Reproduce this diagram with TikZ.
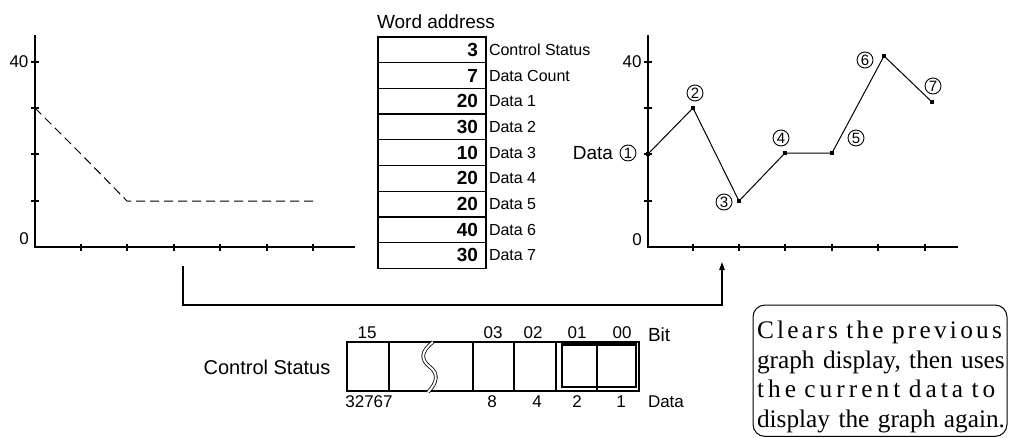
\documentclass[tikz,border=0pt]{standalone}
\usepackage{fontspec}
\setmainfont{Liberation Sans}
\newfontfamily\notefont{Liberation Serif}
\usetikzlibrary{positioning,calc,arrows.meta}

\begin{document}
\begin{tikzpicture}[
        x=1pt, y=-1pt,
        every node/.style={inner sep=0pt, outer sep=0pt, font=\fontsize{17}{17}\selectfont},
        axis/.style={line width=1.4pt},
        tick/.style={line width=2.2pt},
        prevline/.style={line width=1pt, dash pattern=on 9pt off 5pt},
        dataline/.style={line width=1pt},
        dot/.style={rectangle, fill=black, minimum size=3.5pt},
        circnum/.style={circle, draw, line width=0.9pt, minimum size=16pt, font=\fontsize{15}{15}\selectfont},
        wordcell/.style={rectangle, draw, line width=1.3pt, minimum width=108pt, minimum height=25.7pt, text width=92pt, inner xsep=8pt, align=right, font=\bfseries\fontsize{19}{19}\selectfont},
        tag/.style={font=\fontsize{16}{16}\selectfont},
        reg/.style={line width=1.2pt},
        arrow/.style={line width=1.3pt, -{Triangle[length=8pt, width=5.5pt]}},
        notebox/.style={draw, line width=1pt, rounded corners=12pt}
        ]
        \useasboundingbox (0,0) rectangle (1012,437);

        % Previous graph (left)
        \coordinate (ltop) at (35,35);
        \coordinate (lorg) at (35,247);
        \coordinate (lend) at (355,247);
        \draw[axis] (ltop) -- (lorg) -- (lend);
        \draw[tick] (31,62) -- (39,62) (31,108) -- (39,108) (31,154) -- (39,154) (31,201) -- (39,201);
        \draw[tick] (81,243.5) -- (81,250.5) (127,243.5) -- (127,250.5) (174,243.5) -- (174,250.5)
                    (220,243.5) -- (220,250.5) (267,243.5) -- (267,250.5) (313,243.5) -- (313,250.5);
        \node (l40) at (19,62) {40};
        \node (l0) at (24,239) {0};
        \coordinate (p1) at (35,108);
        \coordinate (p2) at (81,154);
        \coordinate (p3) at (127,201);
        \coordinate (p4) at (313,201);
        \draw[prevline] (p1) -- (p2) -- (p3) -- (p4);

        % Word address table
        \node[font=\fontsize{19}{19}\selectfont] (whead) at (436,22) {Word address};
        \node[wordcell] (w0) at (432,49.85) {3};
        \node[wordcell, below=0pt of w0] (w1) {7};
        \node[wordcell, below=0pt of w1] (w2) {20};
        \node[wordcell, below=0pt of w2] (w3) {30};
        \node[wordcell, below=0pt of w3] (w4) {10};
        \node[wordcell, below=0pt of w4] (w5) {20};
        \node[wordcell, below=0pt of w5] (w6) {20};
        \node[wordcell, below=0pt of w6] (w7) {40};
        \node[wordcell, below=0pt of w7] (w8) {30};
        \node[tag, right=3pt of w0] {Control Status};
        \node[tag, right=3pt of w1] {Data Count};
        \node[tag, right=3pt of w2] {Data 1};
        \node[tag, right=3pt of w3] {Data 2};
        \node[tag, right=3pt of w4] {Data 3};
        \node[tag, right=3pt of w5] {Data 4};
        \node[tag, right=3pt of w6] {Data 5};
        \node[tag, right=3pt of w7] {Data 6};
        \node[tag, right=3pt of w8] {Data 7};

        % Current graph (right)
        \coordinate (rtop) at (648,35);
        \coordinate (rorg) at (648,247);
        \coordinate (rend) at (958,247);
        \draw[axis] (rtop) -- (rorg) -- (rend);
        \draw[tick] (644,62) -- (652,62) (644,108) -- (652,108) (644,154) -- (652,154) (644,201) -- (652,201);
        \draw[tick] (693,243.5) -- (693,250.5) (739,243.5) -- (739,250.5) (785,243.5) -- (785,250.5)
                    (832,243.5) -- (832,250.5) (878,243.5) -- (878,250.5) (925,243.5) -- (925,250.5);
        \node (r40) at (632,62) {40};
        \node (r0) at (637,240) {0};
        \node[dot] (d1) at (648,154) {};
        \node[dot] (d2) at (693,108) {};
        \node[dot] (d3) at (739,201) {};
        \node[dot] (d4) at (785,153) {};
        \node[dot] (d5) at (832,153) {};
        \node[dot] (d6) at (884,56) {};
        \node[dot] (d7) at (932,102) {};
        \draw[dataline] (d1) -- (d2) -- (d3) -- (d4) -- (d5) -- (d6) -- (d7);
        \node[circnum] (n1) at (628,153) {1};
        \node[circnum] (n2) at (695,93) {2};
        \node[circnum] (n3) at (724,202) {3};
        \node[circnum] (n4) at (781,138) {4};
        \node[circnum] (n5) at (856,138) {5};
        \node[circnum] (n6) at (865,60) {6};
        \node[circnum] (n7) at (933,86) {7};
        \node[font=\fontsize{19}{19}\selectfont, left=7pt of n1] (datalbl) {Data};

        % Redraw connection
        \coordinate (prevout) at (183,266);
        \coordinate (bend) at (183,305);
        \coordinate (curin) at (722,262);
        \draw[arrow] (prevout) -- (bend) -| (curin);

        % Control status word
        \node[font=\fontsize{20}{20}\selectfont] (ctrl) at (267,367) {Control Status};
        \draw[reg] (347,342) rectangle (639,391);
        \draw[reg] (389,342) -- (389,391) (473,342) -- (473,391) (514,342) -- (514,391)
                   (556,342) -- (556,391) (597,342) -- (597,391);
        \draw[line width=0.8pt, double=white, double distance=2pt] (433,342) .. controls (420,352) and (421,360) .. (430,367) .. controls (439,374) and (437,383) .. (428,392);
        \draw[line width=2.4pt] (562,344.5) rectangle (636,387);
        \node (b15) at (367,333) {15};
        \node (b03) at (493,333) {03};
        \node (b02) at (533,333) {02};
        \node (b01) at (577,333) {01};
        \node (b00) at (622,333) {00};
        \node[font=\fontsize{19}{19}\selectfont, anchor=west] (bitlbl) at (648,335) {Bit};
        \node (v15) at (369,402) {32767};
        \node (v03) at (492,402) {8};
        \node (v02) at (537,402) {4};
        \node (v01) at (577,402) {2};
        \node (v00) at (621,402) {1};
        \node[anchor=west] (vallbl) at (648,402) {Data};

        % Note
        \draw[notebox] (753,305) rectangle (1007,436.4);
        \node[text width=244pt, align=left, font=\notefont\fontsize{25.3}{29.5}\selectfont] (note) at (879,377) {%
            \makebox[244pt][s]{\addfontfeature{LetterSpace=12.8}Clears the previous}\\
            \makebox[244pt][s]{graph display, then uses}\\
            \makebox[244pt][s]{\addfontfeature{LetterSpace=16}the current data to}\\
            \makebox[244pt][s]{display the graph again.}};

    \end{tikzpicture}
\end{document}
